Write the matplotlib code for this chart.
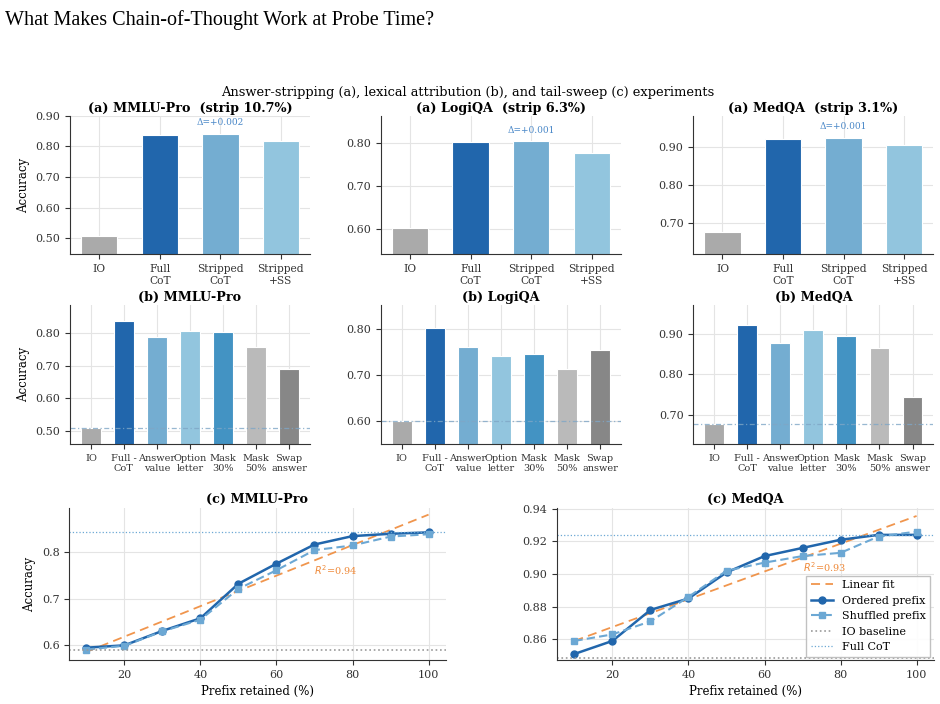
import numpy as np
import matplotlib
matplotlib.use('Agg')
from matplotlib import pyplot as plt
from matplotlib.ticker import MultipleLocator, FormatStrFormatter

plt.rcParams['font.family'] = 'DejaVu Serif'
plt.rcParams['axes.edgecolor'] = '#333333'
plt.rcParams['xtick.color'] = '#333333'
plt.rcParams['ytick.color'] = '#333333'

# ---- data ----
datasets = ['MMLU-Pro', 'LogiQA', 'MedQA']
strip_pct = [10.7, 6.3, 3.1]

strip_labels = ['IO', 'Full\nCoT', 'Stripped\nCoT', 'Stripped\n+SS']
strip_colors = ['#aaaaaa', '#2166ac', '#74add1', '#92c5de']
mmlu_strip = [0.508, 0.838, 0.840, 0.819]
logiqa_strip = [0.601, 0.802, 0.803, 0.777]
medqa_strip = [0.678, 0.923, 0.924, 0.906]

lex_labels = ['IO', 'Full -\nCoT', 'Answer\nvalue', 'Option\nletter',
              'Mask\n30%', 'Mask\n50%', 'Swap\nanswer']
lex_colors = ['#aaaaaa', '#2166ac', '#74add1', '#92c5de', '#4393c3', '#bababa', '#878787']
mmlu_lex = [0.508, 0.837, 0.788, 0.806, 0.805, 0.757, 0.690]
logiqa_lex = [0.600, 0.802, 0.760, 0.741, 0.745, 0.713, 0.754]
medqa_lex = [0.677, 0.922, 0.878, 0.911, 0.896, 0.866, 0.743]

prefix = [10, 20, 30, 40, 50, 60, 70, 80, 90, 100]
mmlu_ordered = [0.595, 0.600, 0.631, 0.658, 0.732, 0.775, 0.816, 0.834, 0.839, 0.842]
mmlu_shuffled = [0.591, 0.599, 0.630, 0.655, 0.721, 0.761, 0.804, 0.814, 0.833, 0.838]
medqa_ordered = [0.851, 0.859, 0.878, 0.885, 0.901, 0.911, 0.916, 0.921, 0.924, 0.924]
medqa_shuffled = [0.859, 0.863, 0.871, 0.886, 0.902, 0.907, 0.911, 0.913, 0.923, 0.926]
# linear fit (slope, intercept) and R^2 as shown
mmlu_fit = (0.003267, 0.5533)
medqa_fit = (0.000851, 0.8505)
sweep_r2 = [0.94, 0.93]
sweep_io = [0.5906, 0.8484]
sweep_full = [0.843, 0.924]
sweep_ylim = [(0.5686, 0.8936), (0.8473, 0.9403)]


def style_ax(ax):
    ax.spines['top'].set_visible(False)
    ax.spines['right'].set_visible(False)
    ax.grid(True, color='#e4e4e4', linewidth=0.8)
    ax.set_axisbelow(True)
    ax.tick_params(labelsize=8, length=3.5, width=0.8)


fig = plt.figure(figsize=(9.4, 7.04), dpi=100)
fig.text(0.005, 0.985, 'What Makes Chain-of-Thought Work at Probe Time?',
         ha='left', va='top', fontsize=14.5, family='Liberation Serif')
fig.text(0.498, 0.868,
         'Answer-stripping (a), lexical attribution (b), and tail-sweep (c) experiments',
         ha='center', va='center', fontsize=9.4)

col_left = [0.0745, 0.4053, 0.7376]
col_w = 0.2553

# (a) answer stripping
for i, vals in enumerate([mmlu_strip, logiqa_strip, medqa_strip]):
    ax = fig.add_axes([col_left[i], 0.6388, col_w, 0.1969])
    x = np.arange(len(vals))
    ax.bar(x, vals, width=0.6, color=strip_colors, edgecolor='white', linewidth=0.8)
    ax.set_ylim(min(vals) - 0.06, max(vals) + 0.06)
    ax.set_xticks(x)
    ax.set_xticklabels(strip_labels)
    ax.yaxis.set_major_locator(MultipleLocator(0.1))
    ax.yaxis.set_major_formatter(FormatStrFormatter('%.2f'))
    style_ax(ax)
    ax.tick_params(axis='x', labelsize=7.7)
    d = vals[2] - vals[1]
    ax.annotate(f'Δ={d:+.3f}', (2, vals[2]), xytext=(0, 5), textcoords='offset points',
                ha='center', va='bottom', fontsize=6.5, color='#4a88c8')
    ax.set_title(f'(a) {datasets[i]}  (strip {strip_pct[i]}%)', fontsize=9.2,
                 fontweight='bold', pad=3)
    if i == 0:
        ax.set_ylabel('Accuracy', fontsize=8.5)

# (b) lexical attribution
for i, vals in enumerate([mmlu_lex, logiqa_lex, medqa_lex]):
    ax = fig.add_axes([col_left[i], 0.3689, col_w, 0.1979])
    x = np.arange(len(vals))
    ax.bar(x, vals, width=0.6, color=lex_colors, edgecolor='white', linewidth=0.8)
    ax.axhline(vals[0], color='#7fa6c6', linestyle=(0, (4, 2, 1, 2)), linewidth=0.9, alpha=0.8)
    ax.set_ylim(min(vals) - 0.05, max(vals) + 0.05)
    ax.set_xticks(x)
    ax.set_xticklabels(lex_labels)
    ax.yaxis.set_major_locator(MultipleLocator(0.1))
    ax.yaxis.set_major_formatter(FormatStrFormatter('%.2f'))
    style_ax(ax)
    ax.tick_params(axis='x', labelsize=7)
    ax.set_title(f'(b) {datasets[i]}', fontsize=9.2, fontweight='bold', pad=3)
    if i == 0:
        ax.set_ylabel('Accuracy', fontsize=8.5)

# (c) tail sweep
sweep_names = ['MMLU-Pro', 'MedQA']
sweep_left = [0.0737, 0.5929]
px = np.array(prefix)
for i, (ordered, shuffled, fit) in enumerate([(mmlu_ordered, mmlu_shuffled, mmlu_fit),
                                               (medqa_ordered, medqa_shuffled, medqa_fit)]):
    ax = fig.add_axes([sweep_left[i], 0.0625, 0.4004, 0.2155])
    fx = np.array([px[0], px[-1]])
    fy = fit[0] * fx + fit[1]
    ax.plot(fx, fy, color='#ef8a3a', linestyle=(0, (5, 3)), linewidth=1.3, alpha=0.9,
            label='Linear fit')
    ax.plot(px, ordered, color='#2166ac', linewidth=1.8, marker='o', markersize=5,
            label='Ordered prefix')
    ax.plot(px, shuffled, color='#6ca8d4', linewidth=1.5, linestyle=(0, (4, 2)),
            marker='s', markersize=4.5, label='Shuffled prefix')
    ax.axhline(sweep_io[i], color='#999999', linestyle=':', linewidth=1.2, label='IO baseline')
    ax.axhline(sweep_full[i], color='#6ca8d4', linestyle=':', linewidth=0.9, label='Full CoT')
    ax.annotate(f'$R^2$={sweep_r2[i]:.2f}', (70, fit[0] * 70 + fit[1]), xytext=(0, -2),
                textcoords='offset points', ha='left', va='top', fontsize=7, color='#ef8a3a')
    ax.set_ylim(*sweep_ylim[i])
    style_ax(ax)
    ax.set_xlabel('Prefix retained (%)', fontsize=8.5)
    ax.set_title(f'(c) {sweep_names[i]}', fontsize=9.2, fontweight='bold', pad=4)
    if i == 0:
        ax.set_ylabel('Accuracy', fontsize=8.5)
    else:
        ax.legend(loc='lower right', fontsize=8, fancybox=False, edgecolor='#bbbbbb',
                  framealpha=0.9, borderaxespad=0.3)

fig.savefig('out.png', dpi=100)
